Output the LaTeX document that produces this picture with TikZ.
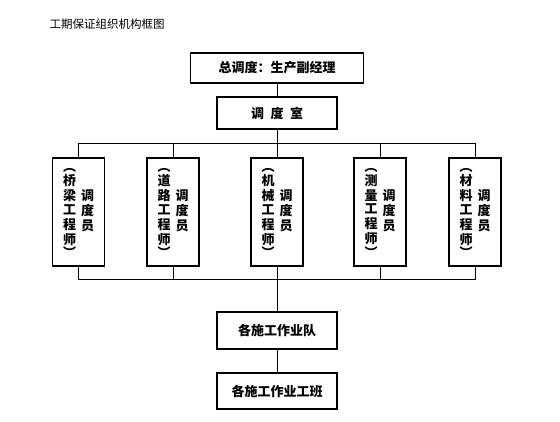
\documentclass[tikz,border=0pt]{standalone}
\usepackage{fontspec}
\setmainfont{Noto Sans CJK SC}
\usetikzlibrary{positioning}
\tikzset{
  % General box
  box/.style={draw, line width=1.2pt, fill=white, inner sep=0pt,
    font=\bfseries\fontsize{13}{13}\selectfont},
  % Horizontal box
  hbox/.style={box, minimum width=120pt, minimum height=32pt},
  % Top box
  tbox/.style={hbox, minimum width=173pt, minimum height=30pt},
  % Vertical box
  vbox/.style={box, minimum width=52pt, minimum height=108pt},
  % Title
  title/.style={font=\fontsize{11.5}{11.5}\selectfont},
  % Connectors
  link/.style={line width=1pt},
}
% one column of vertical text
\newcommand{\vcol}[1]{\begin{tabular}{@{}c@{}}#1\end{tabular}}

\begin{document}
\begin{tikzpicture}[x=1pt, y=-1pt]

    \fill[white] (0,0) rectangle (560,422);
    \useasboundingbox (0,0) rectangle (560,422);

    \node[title] (title) at (107,24) {工期保证组织机构框图};

    \node[tbox] (chief) at (277,68) {总调度：生产副经理};
    \node[hbox] (room) at (277,113) {调\hspace{0.5em}度\hspace{0.5em}室};

    % dispatchers
    \node[vbox] (qiao) at (78.5,212)
    {\vcol{︵\\[-1pt]桥\\梁\\工\\程\\师\\[-1pt]︶}\hspace{5pt}\vcol{调\\度\\员}};
    \node[vbox] (road) at (173,212)
    {\vcol{︵\\[-1pt]道\\路\\工\\程\\师\\[-1pt]︶}\hspace{5pt}\vcol{调\\度\\员}};
    \node[vbox] (mech) at (277,212)
    {\vcol{︵\\[-1pt]机\\械\\工\\程\\师\\[-1pt]︶}\hspace{5pt}\vcol{调\\度\\员}};
    \node[vbox] (survey) at (380,212)
    {\vcol{︵\\[-1pt]测\\量\\工\\程\\师\\[-1pt]︶}\hspace{5pt}\vcol{调\\度\\员}};
    \node[vbox] (mat) at (475,212)
    {\vcol{︵\\[-1pt]材\\料\\工\\程\\师\\[-1pt]︶}\hspace{5pt}\vcol{调\\度\\员}};

    \node[hbox, minimum height=37pt] (team) at (277,330.5) {各施工作业队};
    \node[hbox, minimum height=36pt] (crew) at (277,391) {各施工作业工班};

    % buses
    \coordinate (upbus) at (277,144);
    \coordinate (lowbus) at (277,280);

    \draw[link] (chief) -- (room);
    \draw[link] (room) -- (upbus);
    \foreach \n in {qiao, road, mech, survey, mat} {
      \draw[link] (upbus) -| (\n.north);
      \draw[link] (\n.south) |- (lowbus);
    }
    \draw[link] (lowbus) -- (team);
    \draw[link] (team) -- (crew);

  \end{tikzpicture}
\end{document}
